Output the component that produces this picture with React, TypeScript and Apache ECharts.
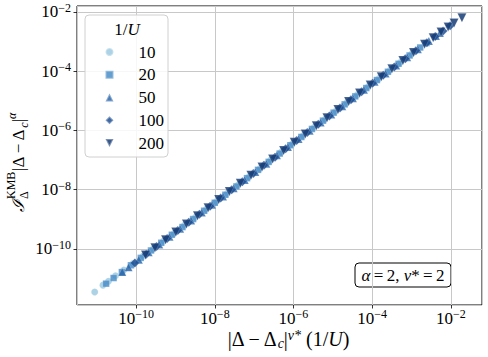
import React, { useEffect, useRef } from "react";
import * as echarts from "echarts";

// log10 of x = |Δ-Δc|^ν*(1/U) and y = I_Δ^KMB |Δ-Δc|^α
const seriesNames = ["10", "20", "50", "100", "200"];

const u10LogX = [-11.05, -10.84, -10.7, -10.52, -10.31, -10.08, -9.82, -9.57, -9.3, -9.04, -8.77, -8.49, -8.22, -7.96, -7.68, -7.41, -7.13, -6.86, -6.58, -6.31, -6.03, -5.76, -5.48, -5.2, -4.93, -4.65, -4.38, -4.1, -3.83, -3.55, -3.28, -3.0];
const u10LogY = [-11.45, -11.22, -11.09, -10.9, -10.71, -10.49, -10.24, -10.0, -9.73, -9.48, -9.2, -8.93, -8.66, -8.4, -8.12, -7.84, -7.56, -7.29, -7.0, -6.73, -6.45, -6.18, -5.9, -5.62, -5.35, -5.07, -4.8, -4.52, -4.25, -3.97, -3.7, -3.42];

const u20LogX = [-10.76, -10.57, -10.36, -10.13, -9.88, -9.62, -9.36, -9.09, -8.82, -8.55, -8.27, -8.0, -7.73, -7.45, -7.18, -6.9, -6.63, -6.35, -6.08, -5.8, -5.53, -5.25, -4.98, -4.7, -4.43, -4.15, -3.88, -3.6, -3.33, -3.05, -2.78, -2.62];
const u20LogY = [-11.17, -10.98, -10.78, -10.55, -10.3, -10.05, -9.79, -9.52, -9.26, -8.99, -8.71, -8.44, -8.17, -7.89, -7.61, -7.33, -7.06, -6.78, -6.5, -6.22, -5.95, -5.67, -5.4, -5.12, -4.85, -4.57, -4.3, -4.02, -3.75, -3.47, -3.2, -3.05];

const u50LogX = [-10.35, -10.19, -9.93, -9.68, -9.41, -9.15, -8.88, -8.6, -8.33, -8.07, -7.79, -7.52, -7.24, -6.97, -6.69, -6.42, -6.14, -5.87, -5.59, -5.31, -5.04, -4.76, -4.49, -4.21, -3.94, -3.66, -3.39, -3.11, -2.84, -2.56, -2.38, -2.28];
const u50LogY = [-10.78, -10.62, -10.36, -10.11, -9.85, -9.59, -9.32, -9.04, -8.77, -8.51, -8.23, -7.95, -7.67, -7.4, -7.12, -6.84, -6.56, -6.29, -6.01, -5.73, -5.46, -5.18, -4.91, -4.63, -4.36, -4.08, -3.81, -3.53, -3.26, -2.98, -2.81, -2.71];

const u100LogX = [-10.03, -9.74, -9.48, -9.21, -8.94, -8.66, -8.39, -8.12, -7.85, -7.57, -7.3, -7.02, -6.75, -6.47, -6.2, -5.92, -5.65, -5.37, -5.09, -4.82, -4.54, -4.27, -3.99, -3.72, -3.44, -3.16, -2.89, -2.61, -2.4, -2.2, -2.02];
const u100LogY = [-10.47, -10.18, -9.92, -9.65, -9.38, -9.1, -8.83, -8.56, -8.28, -8.0, -7.73, -7.45, -7.17, -6.9, -6.62, -6.34, -6.07, -5.79, -5.51, -5.24, -4.96, -4.69, -4.41, -4.14, -3.86, -3.58, -3.31, -3.04, -2.83, -2.64, -2.47];

const u200LogX = [-9.76, -9.52, -9.25, -8.99, -8.72, -8.44, -8.17, -7.9, -7.63, -7.35, -7.08, -6.8, -6.53, -6.25, -5.98, -5.7, -5.42, -5.15, -4.87, -4.6, -4.32, -4.05, -3.77, -3.5, -3.22, -2.95, -2.67, -2.45, -2.25, -2.07, -1.92, -1.72];
const u200LogY = [-10.2, -9.96, -9.69, -9.43, -9.16, -8.88, -8.61, -8.33, -8.06, -7.78, -7.51, -7.23, -6.96, -6.68, -6.4, -6.12, -5.84, -5.57, -5.29, -5.02, -4.74, -4.47, -4.19, -3.92, -3.64, -3.37, -3.09, -2.87, -2.68, -2.51, -2.37, -2.2];

const xLogRange = [-11.5, -1.21];
const yLogRange = [-11.89, -1.8];

const FONT = '"Liberation Serif", "DejaVu Serif", serif';
const colors = ["#9ecae1", "#4a8ec8", "#2a66aa", "#1d4f94", "#163c76"];
const symbols = [
  "circle",
  "rect",
  "triangle",
  "path://M0,-1L1,0L0,1L-1,0Z",
  "path://M0,0L2,0L1,2Z",
];
const symbolSizes = [7, 6.5, 8, 9, 9];

const tickRich = {
  b: { fontSize: 17, lineHeight: 20, fontFamily: FONT, color: "#000" },
  e: { fontSize: 12, lineHeight: 12, verticalAlign: "top", fontFamily: FONT, color: "#000" },
};

const mathRich = {
  n: { fontSize: 17, lineHeight: 24, fontFamily: FONT, color: "#000" },
  i: { fontSize: 17, lineHeight: 24, fontFamily: FONT, fontStyle: "italic", color: "#000" },
  sub: { fontSize: 12, lineHeight: 12, verticalAlign: "bottom", fontFamily: FONT, fontStyle: "italic", color: "#000" },
  sup: { fontSize: 12, lineHeight: 12, verticalAlign: "top", fontFamily: FONT, fontStyle: "italic", color: "#000" },
};

const xNameRich = {
  n: { fontSize: 20, lineHeight: 22, fontFamily: FONT, color: "#000" },
  i: { fontSize: 20, lineHeight: 22, fontFamily: FONT, fontStyle: "italic", color: "#000" },
  sub: { fontSize: 14, lineHeight: 14, verticalAlign: "bottom", fontFamily: FONT, fontStyle: "italic", color: "#000" },
  sup: { fontSize: 14, lineHeight: 14, verticalAlign: "top", fontFamily: FONT, fontStyle: "italic", color: "#000" },
};

function tickFmt(v: number) {
  const e = Math.round(v);
  return `{b|10}{e|${e < 0 ? "\u2212" : ""}${Math.abs(e)}}`;
}

export default function App() {
  const ref = useRef<HTMLDivElement>(null);
  useEffect(() => {
    if (!ref.current) return;
    const chart = echarts.init(ref.current, null, { renderer: "svg" });
    const xs = [u10LogX, u20LogX, u50LogX, u100LogX, u200LogX];
    const ys = [u10LogY, u20LogY, u50LogY, u100LogY, u200LogY];
    const series = seriesNames.map((name, k) => ({
      name,
      type: "scatter",
      symbol: symbols[k],
      symbolSize: symbolSizes[k],
      data: xs[k].map((x, i) => [x, ys[k][i]]),
      itemStyle: {
        color: colors[k],
        opacity: 0.85,
        borderColor: "rgba(255,255,255,0.4)",
        borderWidth: 0.5,
      },
      emphasis: { disabled: true },
    }));
    const axisCommon = {
      type: "value",
      splitNumber: 5,
      axisLine: { show: false },
      axisTick: { show: true, inside: false, length: 3.5, lineStyle: { color: "#000", width: 0.8 } },
      splitLine: { show: true, lineStyle: { color: "#c8c8c8", width: 1 } },
    };
    chart.setOption({
      animation: false,
      backgroundColor: "#fff",
      grid: {
        left: 77,
        right: 6,
        top: 6,
        bottom: 52,
        show: true,
        borderColor: "#000",
        borderWidth: 1,
        backgroundColor: "transparent",
      },
      xAxis: {
        ...axisCommon,
        min: xLogRange[0],
        max: xLogRange[1],
        axisLabel: {
          formatter: tickFmt,
          rich: tickRich,
          margin: 3,
          showMinLabel: false,
          showMaxLabel: false,
        },
      },
      yAxis: {
        ...axisCommon,
        min: yLogRange[0],
        max: yLogRange[1],
        axisLabel: {
          formatter: tickFmt,
          rich: tickRich,
          margin: 6,
          showMinLabel: false,
          showMaxLabel: false,
        },
      },
      legend: {
        data: seriesNames,
        orient: "vertical",
        left: 85,
        top: 15,
        itemWidth: 8,
        itemHeight: 8,
        itemGap: 5.75,
        padding: [28.5, 4, 5.5, 19.5],
        backgroundColor: "rgba(255,255,255,0.85)",
        borderColor: "#d0d0d0",
        borderWidth: 1,
        borderRadius: 4,
        textStyle: {
          fontFamily: FONT,
          fontSize: 17,
          lineHeight: 17,
          color: "#000",
          padding: [0, 0, 0, 20],
        },
      },
      graphic: [
        {
          type: "text",
          x: 127,
          y: 29,
          z: 100,
          style: {
            text: "{n|1/}{i|U}",
            rich: mathRich,
            align: "center",
            verticalAlign: "middle",
          },
        },
        {
          type: "text",
          x: 288,
          y: 339,
          z: 100,
          style: {
            text: "{n||\u0394 \u2212 \u0394}{sub|c}{n||}{sup|\u03bd*}{n| (1/}{i|U}{n|)}",
            rich: xNameRich,
            align: "center",
            verticalAlign: "middle",
          },
        },
        {
          type: "group",
          x: 18,
          y: 156,
          rotation: Math.PI / 2,
          z: 100,
          children: [
            {
              type: "text",
              x: -56,
              y: 0,
              style: {
                text: "\u2110",
                font: `italic 17px ${FONT}`,
                fill: "#000",
                align: "left",
                verticalAlign: "middle",
              },
            },
            {
              type: "text",
              x: -43,
              y: -7,
              style: {
                text: "KMB",
                font: `12px ${FONT}`,
                fill: "#000",
                align: "left",
                verticalAlign: "middle",
              },
            },
            {
              type: "text",
              x: -43,
              y: 6,
              style: {
                text: "\u0394",
                font: `12px ${FONT}`,
                fill: "#000",
                align: "left",
                verticalAlign: "middle",
              },
            },
            {
              type: "text",
              x: -15,
              y: 0,
              style: {
                text: "{n||\u0394 \u2212 \u0394}{sub|c}{n||}{sup|\u03b1}",
                rich: mathRich,
                align: "left",
                verticalAlign: "middle",
              },
            },
          ],
        },
        {
          type: "group",
          z: 100,
          children: [
            {
              type: "rect",
              shape: { x: 355, y: 263, width: 96, height: 24, r: 4 },
              style: { fill: "#fff", stroke: "#000", lineWidth: 1 },
            },
            {
              type: "text",
              x: 403,
              y: 275,
              style: {
                text: "{i|\u03b1}{n|\u2009=\u20092, }{i|\u03bd}{n|*\u2009=\u20092}",
                rich: {
                  n: { fontSize: 17, fontFamily: FONT, color: "#000" },
                  i: { fontSize: 17, fontFamily: FONT, fontStyle: "italic", color: "#000" },
                },
                align: "center",
                verticalAlign: "middle",
              },
            },
          ],
        },
      ],
      series,
    });
    return () => chart.dispose();
  }, []);
  return (
    <div
      ref={ref}
      style={{ position: "fixed", left: 0, top: 0, width: 488, height: 357, background: "#fff" }}
    />
  );
}
